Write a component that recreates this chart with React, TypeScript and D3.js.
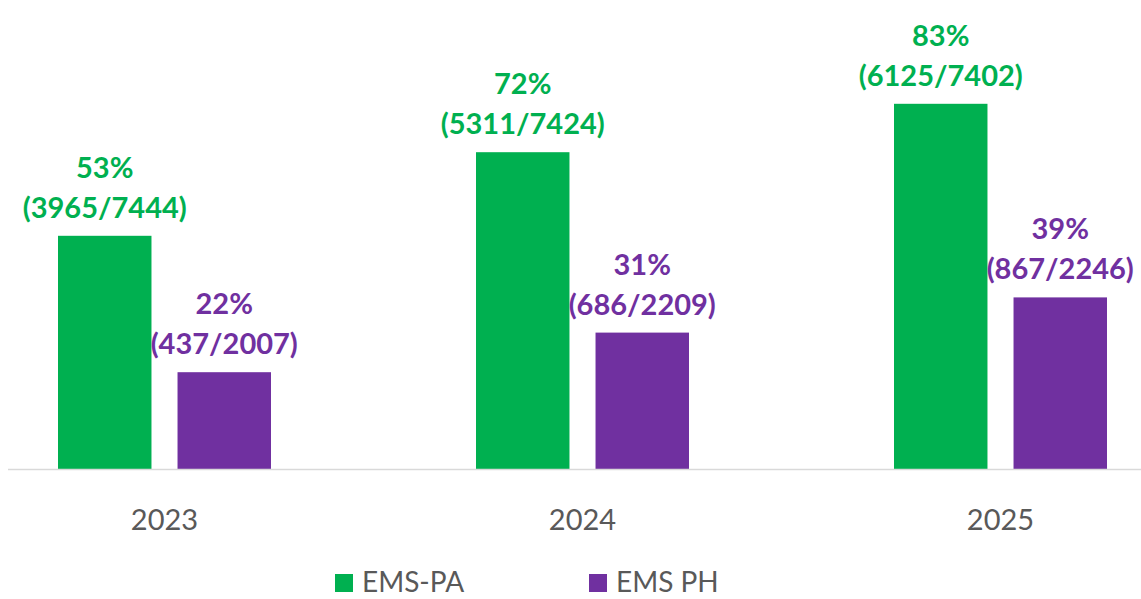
import React, { useEffect, useRef } from 'react';
import * as d3 from 'd3';

// chart data
const years = ['2023', '2024', '2025'];
const seriesNames = ['EMS-PA', 'EMS PH'];
const seriesColors = ['#00B050', '#7030A0'];
const emsPaPct = [53, 72, 83];
const emsPaCounts = ['3965/7444', '5311/7424', '6125/7402'];
const emsPhPct = [22, 31, 39];
const emsPhCounts = ['437/2007', '686/2209', '867/2246'];

const App = () => {
  const chartRef = useRef<SVGSVGElement | null>(null);

  useEffect(() => {
    const width = 1141;
    const svg = d3.select(chartRef.current);
    svg.selectAll('*').remove();

    const font = 'Lato, "Open Sans", sans-serif';
    const baseline = 469;

    // group scale; the chart is a little cropped on the left and right
    const step = 418;
    const x0 = -44.5;
    const x = d3.scaleBand().domain(years).range([x0, x0 + step * years.length]).padding(0);
    const xInner = d3.scaleBand().domain(seriesNames).range([-106.5, 106.5]).paddingInner(0.218).paddingOuter(0);
    const y = d3.scaleLinear().domain([0, 100]).range([baseline, baseline - 440]);

    const series = [
      { name: seriesNames[0], pct: emsPaPct, counts: emsPaCounts, color: seriesColors[0] },
      { name: seriesNames[1], pct: emsPhPct, counts: emsPhCounts, color: seriesColors[1] },
    ];

    // bars + value labels
    series.forEach(s => {
      const g = svg.append('g');
      years.forEach((yr, i) => {
        const cx = (x(yr) as number) + x.bandwidth() / 2;
        const bx = cx + (xInner(s.name) as number);
        const top = y(s.pct[i]);
        g.append('rect')
          .attr('x', bx)
          .attr('y', top)
          .attr('width', xInner.bandwidth())
          .attr('height', baseline - top)
          .attr('fill', s.color);

        const lx = bx + xInner.bandwidth() / 2;
        g.append('text')
          .attr('x', lx)
          .attr('y', top - 58)
          .attr('text-anchor', 'middle')
          .style('font-family', font)
          .style('font-weight', 'bold')
          .style('font-size', '29px')
          .attr('fill', s.color)
          .text(`${s.pct[i]}%`);
        g.append('text')
          .attr('x', lx)
          .attr('y', top - 18)
          .attr('text-anchor', 'middle')
          .style('font-family', font)
          .style('font-weight', 'bold')
          .style('font-size', '29px')
          .attr('fill', s.color)
          .text(`(${s.counts[i]})`);
      });
    });

    // axis line
    svg.append('line')
      .attr('x1', 8)
      .attr('x2', width)
      .attr('y1', baseline + 0.5)
      .attr('y2', baseline + 0.5)
      .attr('stroke', '#D9D9D9')
      .attr('stroke-width', 1.5);

    // category labels
    svg.append('g')
      .selectAll('text')
      .data(years)
      .enter()
      .append('text')
      .attr('x', d => (x(d) as number) + x.bandwidth() / 2)
      .attr('y', 530)
      .attr('text-anchor', 'middle')
      .style('font-family', font)
      .style('font-size', '29px')
      .attr('fill', '#595959')
      .text(d => d);

    // legend
    const legendX = [335, 589];
    seriesNames.forEach((name, i) => {
      svg.append('rect')
        .attr('x', legendX[i])
        .attr('y', 574)
        .attr('width', 18)
        .attr('height', 18)
        .attr('fill', seriesColors[i]);
      svg.append('text')
        .attr('x', legendX[i] + 27)
        .attr('y', 592)
        .style('font-family', font)
        .style('font-size', '28px')
        .attr('fill', '#595959')
        .text(name);
    });
  }, []);

  return (
    <svg
      ref={chartRef}
      width={1141}
      height={599}
      style={{ position: 'absolute', left: 0, top: 0, display: 'block', background: '#fff' }}
    />
  );
};

export default App;
